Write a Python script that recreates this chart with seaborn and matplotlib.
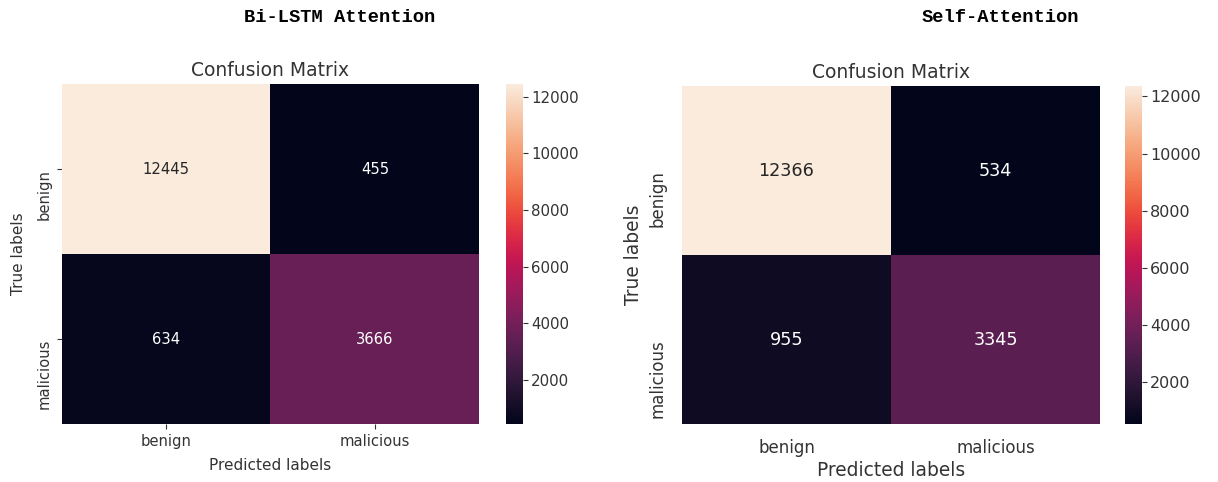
import numpy as np
import matplotlib
matplotlib.use("Agg")
import matplotlib.pyplot as plt
import matplotlib.ticker as mticker
import seaborn as sns

# Class names shared by both confusion matrices
class_labels = ["benign", "malicious"]

# Confusion matrix counts (rows: true, columns: predicted)
bilstm_counts = [[12445, 455],
                 [634, 3666]]
selfattn_counts = [[12366, 534],
                   [955, 3345]]

model_titles = ["Bi-LSTM Attention", "Self-Attention"]
cbar_ticks = [2000, 4000, 6000, 8000, 10000, 12000]

sns.set_theme(style="white")
plt.rcParams["font.family"] = ["DejaVu Sans"]
text_color = "#333333"
plt.rcParams["text.color"] = text_color
plt.rcParams["axes.labelcolor"] = text_color
plt.rcParams["xtick.color"] = text_color
plt.rcParams["ytick.color"] = text_color

fig = plt.figure(figsize=(12.18, 4.82), dpi=100)

panels = [
    dict(data=bilstm_counts, title=model_titles[0],
         ax=[0.0505, 0.1203, 0.343, 0.7054], cax=[0.4154, 0.1203, 0.0142, 0.7054],
         annot=10.6, label=11, tick=10.6, cbar=10.8, ticks=True, head_x=0.279,
         xpad=7, ypad=8),
    dict(data=selfattn_counts, title=model_titles[1],
         ax=[0.5599, 0.1203, 0.3432, 0.7012], cax=[0.9236, 0.1203, 0.0142, 0.7012],
         annot=12.7, label=13.4, tick=12, cbar=11.5, ticks=False, head_x=0.821,
         xpad=3, ypad=4),
]

for p in panels:
    ax = fig.add_axes(p["ax"])
    cax = fig.add_axes(p["cax"])
    sns.heatmap(np.array(p["data"]), annot=True, fmt="d", ax=ax, cbar_ax=cax,
                xticklabels=class_labels, yticklabels=class_labels,
                annot_kws={"size": p["annot"]})
    ax.set_title("Confusion Matrix", fontsize=13.5, color=text_color, pad=6)
    ax.set_xlabel("Predicted labels", fontsize=p["label"], labelpad=p["xpad"])
    ax.set_ylabel("True labels", fontsize=p["label"], labelpad=p["ypad"])
    ax.set_xticklabels(class_labels, fontsize=p["tick"], rotation=0)
    ax.set_yticklabels(class_labels, fontsize=p["tick"], rotation=90, va="top")
    if p["ticks"]:
        ax.tick_params(axis="both", length=3.5, width=0.8, color=text_color,
                       bottom=True, left=True, pad=3.5)
    else:
        ax.tick_params(axis="both", length=0, pad=11)
    cax.tick_params(labelsize=p["cbar"], length=3.5, width=0.8,
                    color=text_color, right=True, pad=2)
    cax.yaxis.set_major_locator(mticker.FixedLocator(cbar_ticks))
    fig.text(p["head_x"], 0.963, p["title"], ha="center", va="center",
             fontsize=13.5, fontweight="bold", family="Liberation Mono",
             color="black")

fig.savefig("out.png", dpi=100)
